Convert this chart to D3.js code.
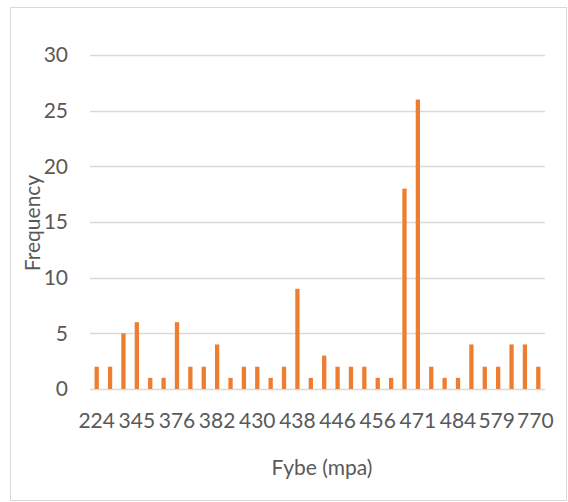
<!DOCTYPE html>
<html>
<head>
<meta charset="utf-8">
<script src="https://cdn.jsdelivr.net/npm/d3@7"></script>
<style>
  html, body { margin: 0; padding: 0; background: #fff; }
  svg { display: block; }
  text { font-family: Lato, "Open Sans", sans-serif; fill: #595959; }
</style>
</head>
<body>
<svg id="chart" width="568" height="502"></svg>
<script>
// Frequency of each bin (34 bins); only every 3rd bin label is shown in the reference
const frequencies = [2, 2, 5, 6, 1, 1, 6, 2, 2, 4, 1, 2, 2, 1, 2, 9, 1, 3, 2, 2, 2, 1, 1, 18, 26, 2, 1, 1, 4, 2, 2, 4, 4, 2];
const tickLabels = ["224", "345", "376", "382", "430", "438", "446", "456", "471", "484", "579", "770"];
const tickEvery = 3;
const yTicks = [0, 5, 10, 15, 20, 25, 30];
const xTitle = "Fybe (mpa)";
const yTitle = "Frequency";

(function () {
const svg = d3.select("#chart");
const pLeft = 90, pRight = 545, pTop = 55, pBottom = 389;
const fs = 21;

// chart border
svg.append("rect").attr("x", 10.5).attr("y", 7.5).attr("width", 556).attr("height", 493)
  .attr("fill", "none").attr("stroke", "#d9d9d9").attr("stroke-width", 1);

const x = d3.scaleBand().domain(d3.range(frequencies.length)).range([pLeft, pRight]).paddingInner(0.68).paddingOuter(0.34);
const y = d3.scaleLinear().domain([0, 30]).range([pBottom, pTop]);

// gridlines
svg.append("g").selectAll("line").data(yTicks).join("line")
  .attr("x1", pLeft).attr("x2", pRight)
  .attr("y1", d => Math.round(y(d)) + 0.5).attr("y2", d => Math.round(y(d)) + 0.5)
  .attr("stroke", "#d9d9d9").attr("stroke-width", 1.3);

// y axis labels
const yAxis = d3.axisLeft(y).tickValues(yTicks).tickSize(0).tickPadding(0);
const gy = svg.append("g").attr("transform", `translate(68,0)`).call(yAxis);
gy.select(".domain").remove();
gy.selectAll("text").attr("font-size", fs).style("font-family", "Lato, 'Open Sans', sans-serif").attr("fill", "#595959");

// bars
svg.append("g").selectAll("rect").data(frequencies).join("rect")
  .attr("x", (d, i) => x(i)).attr("width", x.bandwidth())
  .attr("y", d => y(d)).attr("height", d => y(0) - y(d))
  .attr("fill", "#ED7D31");

// x tick labels (every 3rd bin); the last two are nudged left to stay inside the plot
const n = tickLabels.length;
svg.append("g").selectAll("text").data(tickLabels).join("text")
  .attr("x", (d, i) => x(i * tickEvery) + x.bandwidth() / 2 - (i === n - 1 ? 3 : i === n - 2 ? 1.5 : 0))
  .attr("y", 428)
  .attr("text-anchor", "middle")
  .attr("font-size", fs)
  .text(d => d);

// axis titles
svg.append("text").attr("x", 322).attr("y", 475).attr("text-anchor", "middle")
  .attr("font-size", fs).text(xTitle);
svg.append("text").attr("transform", "translate(40,223) rotate(-90)").attr("text-anchor", "middle")
  .attr("font-size", fs).text(yTitle);
})();
</script>
</body>
</html>
